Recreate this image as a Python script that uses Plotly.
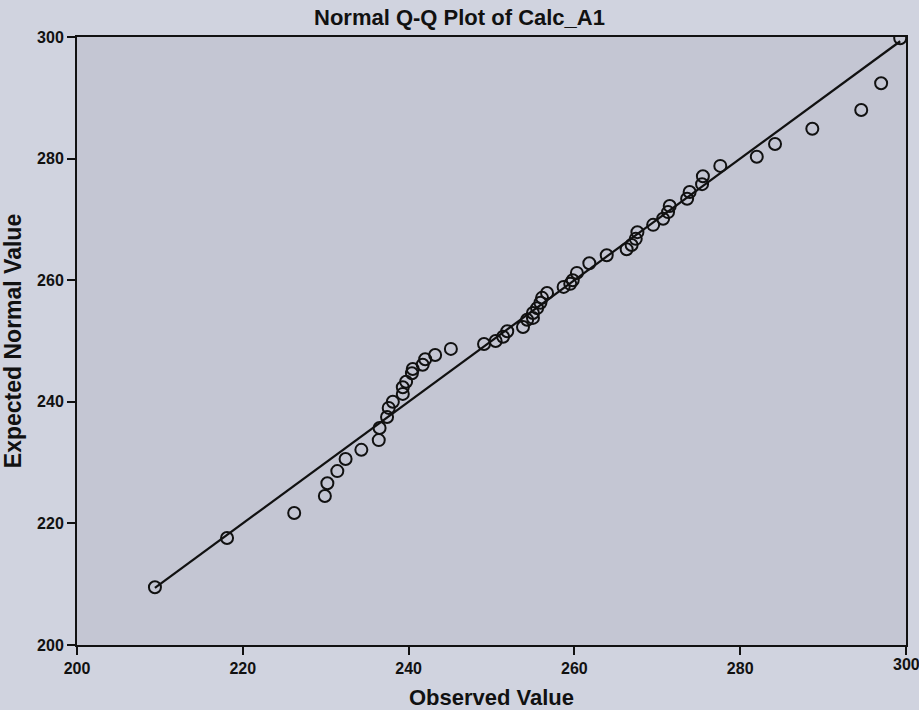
import plotly.graph_objects as go

# Sorted observed values and their expected normal quantiles
observed = [209.4, 218.1, 226.2, 229.9, 230.2, 231.4, 232.4, 234.3, 236.4, 236.5,
            237.4, 237.6, 238.1, 239.3, 239.3, 239.7, 240.4, 240.5, 241.7, 242.0,
            243.2, 245.1, 249.1, 250.5, 251.4, 251.9, 253.8, 254.3, 255.0, 255.0,
            255.5, 255.9, 256.1, 256.7, 258.7, 259.5, 259.8, 260.3, 261.8, 263.9,
            266.3, 266.9, 267.4, 267.6, 269.5, 270.7, 271.3, 271.5, 273.6, 273.9,
            275.4, 275.5, 277.6, 282.0, 284.2, 288.7, 294.6, 297.0, 299.3]
expected = [209.5, 217.6, 221.7, 224.5, 226.6, 228.6, 230.6, 232.1, 233.7, 235.7,
            237.5, 239.0, 240.0, 241.3, 242.4, 243.3, 244.7, 245.4, 246.1, 247.0,
            247.7, 248.7, 249.5, 250.0, 250.7, 251.6, 252.3, 253.5, 253.8, 254.6,
            255.4, 256.3, 257.1, 257.9, 258.9, 259.4, 260.0, 261.2, 262.8, 264.1,
            265.1, 265.8, 266.8, 267.9, 269.1, 270.1, 271.2, 272.2, 273.4, 274.5,
            275.8, 277.1, 278.8, 280.3, 282.4, 284.9, 288.0, 292.4, 299.8]

axis_ticks = [200, 220, 240, 260, 280, 300]

# Reference line y = x spanning the observed range
ref_x = [min(observed), max(observed)]
ref_y = ref_x

font_family = "Liberation Sans, Arial, sans-serif"
ink = "#111111"
tick_font = dict(family=font_family, size=16, color=ink, weight="bold")

fig = go.Figure()
fig.add_trace(go.Scatter(
    x=ref_x, y=ref_y, mode="lines",
    line=dict(color=ink, width=2.2),
    hoverinfo="skip", showlegend=False,
))
fig.add_trace(go.Scatter(
    x=observed, y=expected, mode="markers",
    marker=dict(symbol="circle-open", size=12, color=ink,
                line=dict(width=2, color=ink)),
    showlegend=False,
))

axis_common = dict(
    range=[200, 300],
    tickvals=axis_ticks,
    ticks="outside", ticklen=8, tickwidth=2, tickcolor=ink,
    showline=True, linecolor=ink, linewidth=2, mirror=True,
    showgrid=False, zeroline=False, automargin=False,
    tickfont=tick_font,
)

# The last x tick label runs past the page edge, so Plotly drops it;
# draw it as an annotation anchored to the axis value instead.
last_x_tick = axis_ticks[-1]
fig.add_annotation(
    x=last_x_tick, xref="x", y=0, yref="paper",
    text=str(last_x_tick), showarrow=False,
    xanchor="center", yanchor="top", yshift=-9,
    font=tick_font,
)

fig.update_layout(
    width=919, height=710,
    margin=dict(l=77, r=13, t=37, b=65),
    paper_bgcolor="rgb(208,211,223)",
    plot_bgcolor="rgb(196,198,211)",
    title=dict(
        text="Normal Q-Q Plot of Calc_A1",
        x=0.5, xanchor="center", y=0.975, yanchor="middle",
        font=dict(family=font_family, size=22, color=ink, weight="bold"),
    ),
    xaxis=dict(
        **axis_common,
        title=dict(text="Observed Value", standoff=20,
                   font=dict(family=font_family, size=22, color=ink, weight="bold")),
    ),
    yaxis=dict(
        **axis_common,
        title=dict(text="Expected Normal Value", standoff=12,
                   font=dict(family=font_family, size=23, color=ink, weight="bold")),
    ),
)

fig.write_html("out.html")
